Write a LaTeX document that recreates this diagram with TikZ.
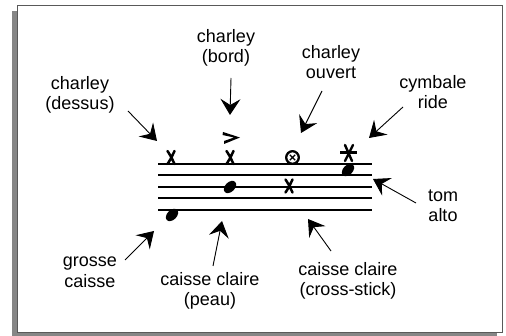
\documentclass[tikz,border=0pt]{standalone}
\usepackage{fontspec}
\setmainfont{Liberation Sans}
\usetikzlibrary{arrows.meta}
\begin{document}
\begin{tikzpicture}[x=1pt,y=-1pt,
  lbl/.style={align=center,inner sep=0pt,font=\fontsize{18}{20.5}\selectfont},
  arr/.style={line width=0.9pt,-{Stealth[length=16pt,width=20pt,inset=6pt]}},
  staff/.style={line width=2pt},
  xhead/.pic={\draw[line width=2.5pt,line cap=round] (-3.5,-6.5) .. controls (0,-1) .. (3.5,6.5) (3.5,-6.5) .. controls (0,1) .. (-3.5,6.5);},
  nhead/.pic={\fill[rotate=45] (0,0) ellipse (7.2 and 4.8);}
]
\useasboundingbox (0,0) rectangle (506,336);
% frame with shadow
\fill[gray!95] (12,11) rectangle (497,336);
\draw[fill=white,draw=black!65,line width=1pt] (17.5,5.5) rectangle (502.5,332.5);
% staff
\foreach \yy in {164,175.5,187,198.5,210}
  \draw[staff] (158,\yy) -- (372,\yy);
% notes column 1
\pic at (171,157.5) {xhead};
\pic at (172,215) {nhead};
% column 2
\fill (223,132) -- (240,137.5) -- (224,144) -- (224,141) -- (234,137.5) -- (222.5,135) -- cycle;
\pic at (230,157.5) {xhead};
\pic at (230,187) {nhead};
% column 3
\draw[line width=2.3pt] (292.5,157.5) circle (6.3);
\draw[line width=1.4pt] (289.8,154.8) -- (295.2,160.2) (295.2,154.8) -- (289.8,160.2);
\pic at (289,186) {xhead};
% column 4
\draw[line width=2.6pt] (340,152.5) -- (357,152.5);
\draw[line width=2.4pt,line cap=round] (345,145) -- (352,161) (353,145) -- (345,161);
\pic at (348,170) {nhead};
% labels
\node[lbl] (dessus) at (80,95) {charley\\(dessus)};
\node[lbl] (bord) at (226,48) {charley\\(bord)};
\node[lbl] (ouvert) at (331,62) {charley\\ouvert};
\node[lbl] (ride) at (433,92) {cymbale\\ride};
\node[lbl] (tom) at (443,206) {tom\\alto};
\node[lbl] (grosse) at (90,272) {grosse\\caisse};
\node[lbl] (peau) at (210,291) {caisse claire\\(peau)};
\node[lbl] (cross) at (348,281) {caisse claire\\(cross-stick)};
% arrow ends
\coordinate (s1) at (128,111); \coordinate (t1) at (157,141);
\coordinate (s2) at (231,78);  \coordinate (t2) at (230,115);
\coordinate (s3) at (322,91);  \coordinate (t3) at (301,133);
\coordinate (s4) at (403,107); \coordinate (t4) at (369,138);
\coordinate (s5) at (416,203); \coordinate (t5) at (373,179);
\coordinate (s6) at (125,260); \coordinate (t6) at (154,231);
\coordinate (s7) at (213,266); \coordinate (t7) at (222,221);
\coordinate (s8) at (331,251); \coordinate (t8) at (308,219);
\foreach \i in {1,...,8} \draw[arr] (s\i) -- (t\i);
\end{tikzpicture}
\end{document}
